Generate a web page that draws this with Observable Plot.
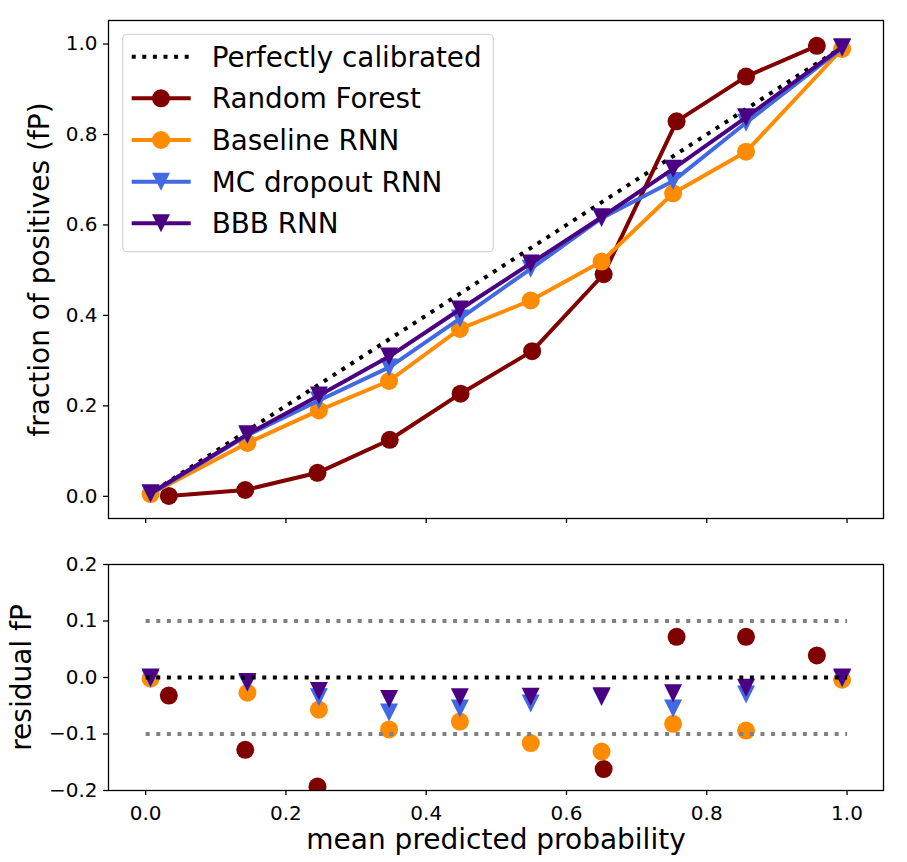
<!DOCTYPE html>
<html><head><meta charset="utf-8">
<script src="https://cdn.jsdelivr.net/npm/d3@7"></script>
<script src="https://cdn.jsdelivr.net/npm/@observablehq/plot@0.6"></script>
<style>
body{margin:0;background:#fff;}
#wrap{position:relative;width:907px;height:862px;font-family:"DejaVu Sans",sans-serif;background:#fff;}
</style></head><body><div id="wrap"></div>
<script>
// ---- data ----
const seriesNames = ["Random Forest", "Baseline RNN", "MC dropout RNN", "BBB RNN"];
const seriesColors = ["#800000", "#ff8c00", "#4169e1", "#4b0082"];
const seriesMarkers = ["circle", "circle", "triangleDown", "triangleDown"];
const perfectLabel = "Perfectly calibrated";

const meanPredRF = [0.033, 0.142, 0.245, 0.348, 0.449, 0.551, 0.653, 0.757, 0.856, 0.957];
const fracPosRF  = [0.001, 0.014, 0.052, 0.125, 0.227, 0.321, 0.491, 0.829, 0.928, 0.996];

const meanPredRNN = [0.007, 0.145, 0.247, 0.347, 0.448, 0.549, 0.650, 0.752, 0.856, 0.993];
const fracPosBaseline = [0.005, 0.118, 0.190, 0.255, 0.370, 0.433, 0.519, 0.670, 0.762, 0.989];
const fracPosMC       = [0.005, 0.135, 0.212, 0.285, 0.393, 0.503, 0.615, 0.697, 0.826, 0.991];
const fracPosBBB      = [0.007, 0.137, 0.223, 0.309, 0.413, 0.515, 0.617, 0.724, 0.838, 0.993];

const perfectLine = [0, 1];
const residualRefLevels = [0.1, 0, -0.1];
const residualRefColors = ["#808080", "#000000", "#808080"];

const xTicks = [0, 0.2, 0.4, 0.6, 0.8, 1.0];
const yTicksTop = [0, 0.2, 0.4, 0.6, 0.8, 1.0];
const yTicksBottom = [-0.2, -0.1, 0, 0.1, 0.2];

const xLabel = "mean predicted probability";
const yLabelTop = "fraction of positives (fP)";
const yLabelBottom = "residual fP";

// ---- build tables ----
const xs = [meanPredRF, meanPredRNN, meanPredRNN, meanPredRNN];
const ys = [fracPosRF, fracPosBaseline, fracPosMC, fracPosBBB];
const series = seriesNames.map((name, i) => ({
  name, color: seriesColors[i], marker: seriesMarkers[i],
  rows: xs[i].map((x, j) => ({x, y: ys[i][j], r: ys[i][j] - x}))
}));

const triDown = {draw(ctx, size) { const s = Math.sqrt(2 * size) / 2; ctx.moveTo(0, s); ctx.lineTo(-s, -s); ctx.lineTo(s, -s); ctx.closePath(); }};
const FONT = "DejaVu Sans";
const fmt = d3.format(".1f");
const dotted = {strokeWidth: 4, strokeDasharray: "4,6.6", strokeLinecap: "butt"};

function dotMark(s, yKey, extra = {}) {
  const tri = s.marker === "triangleDown";
  return Plot.dot(s.rows, {x: "x", y: yKey, fill: s.color, stroke: "none",
    r: tri ? 7.18 : 9, symbol: tri ? triDown : "circle", ...extra});
}

const wrap = document.getElementById("wrap");

// ---- top panel ----
const topMarks = [
  Plot.line(perfectLine, {x: d => d, y: d => d, stroke: "black", ...dotted})
];
for (const s of series) {
  topMarks.push(Plot.line(s.rows, {x: "x", y: "y", stroke: s.color, strokeWidth: 4}));
  topMarks.push(dotMark(s, "y"));
}
topMarks.push(
  Plot.axisX({ticks: xTicks, tickFormat: () => "", tickSize: 5, strokeWidth: 1.3, label: null}),
  Plot.axisY({ticks: yTicksTop, tickFormat: fmt, tickSize: 5, tickPadding: 6, strokeWidth: 1.3, fontSize: 20, label: null}),
  Plot.text([yLabelTop], {text: d => d, frameAnchor: "left", textAnchor: "middle", lineAnchor: "middle", dx: -68, rotate: -90, fontSize: 28, fill: "black"}),
  Plot.frame({stroke: "black", strokeWidth: 1.3})
);
const topPlot = Plot.plot({
  width: 907, height: 540,
  marginLeft: 108, marginRight: 24, marginTop: 20, marginBottom: 22,
  x: {domain: [-0.053, 1.052]},
  y: {domain: [-0.049, 1.052]},
  style: {fontFamily: FONT, fontSize: "20px", color: "black", background: "transparent", overflow: "visible"},
  marks: topMarks
});
topPlot.style.position = "absolute"; topPlot.style.left = "0px"; topPlot.style.top = "0px";
wrap.appendChild(topPlot);

// ---- bottom panel ----
const botMarks = [];
for (const s of series) botMarks.push(dotMark(s, "r", {clip: true}));
residualRefLevels.forEach((lvl, i) => {
  botMarks.push(Plot.line(perfectLine, {x: d => d, y: () => lvl, stroke: residualRefColors[i], ...dotted}));
});
botMarks.push(
  Plot.axisX({ticks: xTicks, tickFormat: fmt, tickSize: 5, tickPadding: 10, strokeWidth: 1.3, fontSize: 20, label: null}),
  Plot.axisY({ticks: yTicksBottom, tickFormat: fmt, tickSize: 5, tickPadding: 6, strokeWidth: 1.3, fontSize: 20, label: null}),
  Plot.text([yLabelBottom], {text: d => d, frameAnchor: "left", textAnchor: "middle", lineAnchor: "middle", dx: -86, rotate: -90, fontSize: 28, fill: "black"}),
  Plot.text([xLabel], {text: d => d, frameAnchor: "bottom", textAnchor: "middle", lineAnchor: "middle", dy: 50, fontSize: 28, fill: "black"}),
  Plot.frame({stroke: "black", strokeWidth: 1.3})
);
const botPlot = Plot.plot({
  width: 907, height: 318,
  marginLeft: 108, marginRight: 24, marginTop: 20, marginBottom: 72,
  x: {domain: [-0.053, 1.052]},
  y: {domain: [-0.2, 0.2]},
  style: {fontFamily: FONT, fontSize: "20px", color: "black", background: "transparent", overflow: "visible"},
  marks: botMarks
});
botPlot.style.position = "absolute"; botPlot.style.left = "0px"; botPlot.style.top = "544px";
wrap.appendChild(botPlot);

// ---- legend ----
const leg = d3.create("svg").attr("width", 520).attr("height", 270)
  .style("position", "absolute").style("left", "0px").style("top", "0px");
leg.append("rect").attr("x", 122.7).attr("y", 34.3).attr("width", 370.6).attr("height", 217.4)
  .attr("rx", 4).attr("fill", "white").attr("fill-opacity", 0.8).attr("stroke", "#cccccc").attr("stroke-width", 1);
const entries = [{name: perfectLabel, color: "black", marker: null, dotted: true}, ...series];
entries.forEach((e, i) => {
  const cy = 56.7 + i * 41.65;
  const ln = leg.append("line").attr("x1", 131.7).attr("x2", 190.7).attr("y1", cy).attr("y2", cy)
    .attr("stroke", e.color).attr("stroke-width", 4);
  if (e.dotted) ln.attr("stroke-dasharray", "4,6.6");
  if (e.marker === "circle") leg.append("circle").attr("cx", 161).attr("cy", cy).attr("r", 9).attr("fill", e.color);
  if (e.marker === "triangleDown") leg.append("path").attr("d", `M161,${cy + 9}L152,${cy - 9}L170,${cy - 9}Z`).attr("fill", e.color);
  leg.append("text").attr("x", 211.7).attr("y", cy + 10).attr("font-family", FONT).attr("font-size", 27.8)
    .attr("fill", "black").text(e.name);
});
wrap.appendChild(leg.node());
</script></body></html>
